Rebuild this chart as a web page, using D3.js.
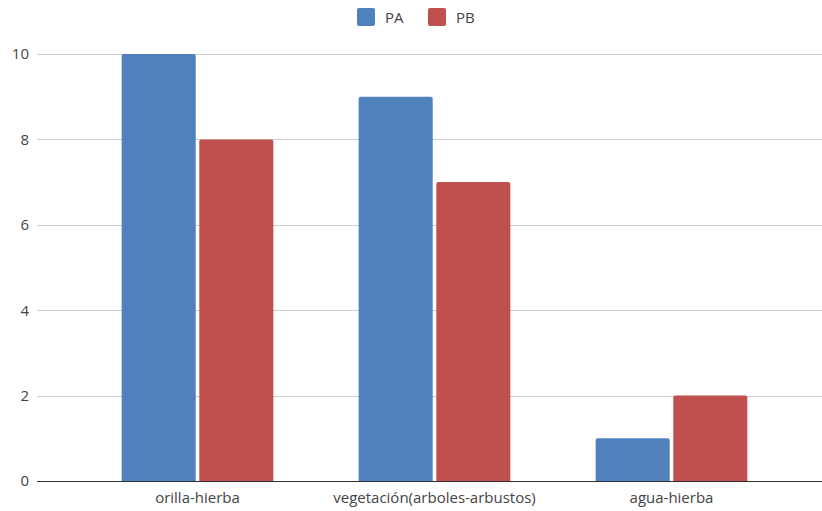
<!DOCTYPE html>
<html>
<head>
<meta charset="utf-8">
<script src="https://cdn.jsdelivr.net/npm/d3@7"></script>
<style>
  html, body { margin: 0; padding: 0; background: #fff; }
  svg { display: block; font-family: "Open Sans", "Noto Sans", sans-serif; }
</style>
</head>
<body>
<svg id="chart" width="822" height="511"></svg>
<script>
// Data
const categories = ["orilla-hierba", "vegetación(arboles-arbustos)", "agua-hierba"];
const seriesNames = ["PA", "PB"];
const paValues = [10, 9, 1];
const pbValues = [8, 7, 2];
const yTicks = [0, 2, 4, 6, 8, 10];
const colors = ["#4f81bd", "#c0504d"];

const seriesValues = [paValues, pbValues];
const rows = categories.map((c, i) => ({ cat: c, vals: seriesValues.map(s => s[i]) }));

const svg = d3.select("#chart");
const gridLeft = 37, gridRight = 822;
const fontSize = 15;

const x = d3.scaleBand().domain(categories).range([79, 790]).paddingInner(0.36).paddingOuter(0.18);
const xs = d3.scaleBand().domain(seriesNames).range([0, x.bandwidth()]).paddingInner(0.046);
const y = d3.scaleLinear().domain([0, 10]).range([481, 54]);

// Gridlines
svg.append("g").selectAll("line")
  .data(yTicks.filter(t => t !== 0))
  .join("line")
  .attr("x1", gridLeft).attr("x2", gridRight)
  .attr("y1", d => Math.round(y(d)) + 0.5).attr("y2", d => Math.round(y(d)) + 0.5)
  .attr("stroke", "#cccccc").attr("stroke-width", 1);

// Y axis labels
const yAxis = d3.axisLeft(y).tickValues(yTicks).tickSize(0).tickPadding(0);
const yg = svg.append("g").attr("transform", `translate(29,0)`).call(yAxis);
yg.select(".domain").remove();
yg.selectAll("text").attr("font-size", fontSize).attr("fill", "#444").attr("font-family", "'Open Sans', sans-serif");

// Bars
const groups = svg.append("g").selectAll("g")
  .data(rows)
  .join("g")
  .attr("transform", d => `translate(${x(d.cat)},0)`);

groups.selectAll("path")
  .data(d => d.vals.map((v, i) => ({ name: seriesNames[i], v, i })))
  .join("path")
  .attr("fill", d => colors[d.i])
  .attr("d", d => {
    const x0 = xs(d.name), w = xs.bandwidth();
    const top = y(d.v), bot = y(0), r = 2;
    return `M${x0},${bot} V${top + r} Q${x0},${top} ${x0 + r},${top} H${x0 + w - r} Q${x0 + w},${top} ${x0 + w},${top + r} V${bot} Z`;
  });

// Baseline
svg.append("line")
  .attr("x1", gridLeft).attr("x2", gridRight)
  .attr("y1", Math.round(y(0)) + 0.5).attr("y2", Math.round(y(0)) + 0.5)
  .attr("stroke", "#333").attr("stroke-width", 1.2);

// X axis labels
const xAxis = d3.axisBottom(x).tickSize(0).tickPadding(0);
const xg = svg.append("g").attr("transform", `translate(0,492)`).call(xAxis);
xg.select(".domain").remove();
xg.selectAll("text").attr("font-size", fontSize).attr("fill", "#444").attr("font-family", "'Open Sans', sans-serif");

// Legend
const legend = svg.append("g");
const legendX = [357, 428];
seriesNames.forEach((name, i) => {
  const g = legend.append("g").attr("transform", `translate(${legendX[i]},8)`);
  g.append("rect").attr("width", 18).attr("height", 18).attr("rx", 2).attr("fill", colors[i]);
  g.append("text").attr("x", 28).attr("y", 15).attr("font-size", fontSize).attr("fill", "#444").text(name);
});
</script>
</body>
</html>
